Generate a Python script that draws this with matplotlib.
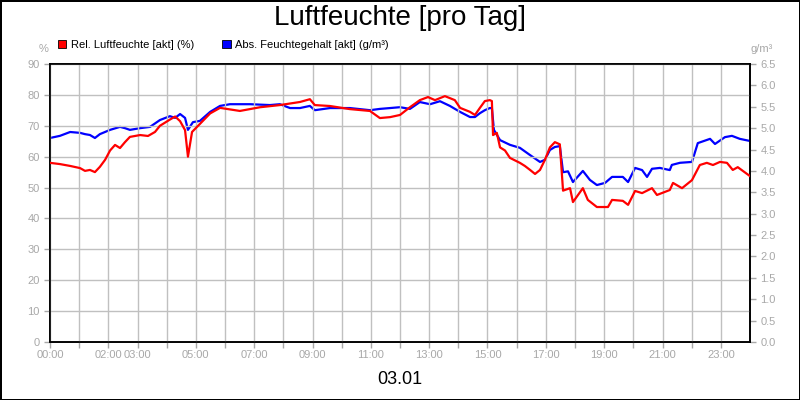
import numpy as np
import matplotlib.pyplot as plt
from matplotlib.patches import Patch

plt.rcParams['font.family'] = ['Liberation Sans', 'DejaVu Sans']

# time in hours since 00:00 of 03.01
t_rel = [0, 0.34, 0.69, 1.03, 1.2, 1.37, 1.54, 1.71, 1.89, 2.06, 2.23, 2.4, 2.57, 2.74,
         3.09, 3.36, 3.6, 3.77, 4.11, 4.29, 4.46, 4.63, 4.73, 4.87, 5.14, 5.49, 5.83,
         6.51, 7.2, 7.88, 8.57, 8.91, 9.08, 9.6, 10.28, 10.97, 11.31, 11.66, 12.0,
         12.34, 12.68, 12.96, 13.2, 13.54, 13.88, 14.06, 14.4, 14.57, 14.74, 14.91,
         15.08, 15.15, 15.19, 15.32, 15.43, 15.6, 15.77, 16.11, 16.28, 16.46, 16.63,
         16.8, 16.97, 17.14, 17.31, 17.48, 17.59, 17.83, 17.93, 18.27, 18.44, 18.75,
         19.13, 19.27, 19.64, 19.82, 20.06, 20.3, 20.64, 20.81, 21.25, 21.36, 21.67,
         22.01, 22.28, 22.52, 22.73, 22.97, 23.21, 23.41, 23.58, 24.0]
rel = [58, 57.6, 57, 56.3, 55.4, 55.7, 55, 56.7, 59, 62, 63.8, 62.8, 64.7, 66.4,
       67, 66.7, 68, 70, 72, 73, 71.5, 68.6, 60, 68, 70.6, 74, 75.8,
       74.8, 76, 76.7, 77.7, 78.6, 76.7, 76.4, 75.4, 74.8, 72.5, 72.8, 73.5,
       76, 78.3, 79.3, 78.3, 79.6, 78.3, 75.8, 74.5, 73.5, 75.8, 78,
       78.3, 78, 67, 67.7, 63, 62, 59.6, 58, 57, 55.7, 54.4,
       55.7, 59, 63, 64.7, 64, 49, 49.8, 45.3, 49.8, 46, 43.7,
       43.7, 46, 45.7, 44.4, 48.9, 48.2, 49.8, 47.6, 49.2, 51.5, 49.8,
       52.4, 57.3, 58, 57.3, 58.3, 58, 55.7, 56.6, 53.7]

t_abs = [0, 0.34, 0.69, 1.03, 1.2, 1.37, 1.54, 1.71, 2.06, 2.4, 2.57, 2.74, 3.09,
         3.43, 3.77, 4.11, 4.29, 4.46, 4.63, 4.73, 4.9, 5.14, 5.49, 5.83, 6.17,
         6.86, 7.54, 7.88, 8.23, 8.57, 8.91, 9.08, 9.6, 10.28, 10.97, 11.31, 11.66,
         12.0, 12.34, 12.68, 13.03, 13.37, 13.71, 14.06, 14.4, 14.57, 14.74, 14.91,
         15.08, 15.15, 15.22, 15.43, 15.77, 16.11, 16.46, 16.8, 16.97, 17.14, 17.31,
         17.48, 17.59, 17.76, 17.93, 18.27, 18.51, 18.75, 19.03, 19.27, 19.64, 19.82,
         20.06, 20.3, 20.47, 20.64, 20.91, 21.25, 21.32, 21.6, 22.01, 22.21, 22.63,
         22.8, 23.14, 23.38, 23.65, 24.0]
absf = [4.77, 4.82, 4.91, 4.89, 4.86, 4.84, 4.77, 4.86, 4.96, 5.03, 5.0, 4.96, 5.0,
        5.03, 5.19, 5.28, 5.24, 5.33, 5.24, 4.96, 5.14, 5.17, 5.38, 5.52, 5.56,
        5.56, 5.54, 5.56, 5.47, 5.47, 5.52, 5.42, 5.47, 5.47, 5.42, 5.45, 5.47,
        5.49, 5.45, 5.61, 5.56, 5.63, 5.52, 5.38, 5.26, 5.26, 5.35, 5.42,
        5.47, 5.47, 4.96, 4.72, 4.61, 4.54, 4.37, 4.21, 4.26, 4.49, 4.56,
        4.58, 3.97, 3.99, 3.74, 4.0, 3.79, 3.67, 3.72, 3.86, 3.86, 3.74,
        4.07, 4.02, 3.86, 4.05, 4.07, 4.02, 4.14, 4.19, 4.21, 4.65, 4.75,
        4.63, 4.79, 4.82, 4.75, 4.7]

hour_labels = ['00:00', '', '02:00', '03:00', '', '05:00', '', '07:00', '', '09:00', '',
               '11:00', '', '13:00', '', '15:00', '', '17:00', '', '19:00', '', '21:00',
               '', '23:00']

grey = '#a8a8a8'

fig = plt.figure(figsize=(8, 4), dpi=100)
fig.patch.set_edgecolor('black')
fig.patch.set_linewidth(2)

ax = fig.add_axes([0.0625, 0.145, 0.875, 0.695])
ax2 = ax.twinx()

ax.plot(t_rel, rel, color='#ff0000', lw=1.6, zorder=3)
ax2.plot(t_abs, absf, color='#0000ff', lw=1.6, zorder=3)

ax.set_xlim(0, 24)
ax.set_ylim(0, 90)
ax2.set_ylim(0, 6.5)
ax.set_yticks(np.arange(0, 91, 10))
ax2.set_yticks(np.arange(0, 6.51, 0.5))
ax2.set_yticklabels(['%.1f' % v for v in np.arange(0, 6.51, 0.5)])
ax.set_xticks(np.arange(0, 24))
ax.set_xticklabels(hour_labels)

ax.grid(True, color='#c0c0c0', lw=1)
ax.set_axisbelow(True)
for a in (ax, ax2):
    a.tick_params(colors=grey, labelsize=8, length=4, width=1)
    for s in a.spines.values():
        s.set_color('black')
        s.set_linewidth(1.2)
ax.tick_params(axis='x', pad=2)

# put red line above blue
ax.set_zorder(ax2.get_zorder() + 1)
ax.patch.set_visible(False)

fig.text(0.5, 0.955, 'Luftfeuchte [pro Tag]', ha='center', va='center', fontsize=20)
fig.text(0.5, 0.05, '03.01', ha='center', va='center', fontsize=13)
fig.text(0.054, 0.878, '%', ha='center', va='center', fontsize=8, color=grey)
fig.text(0.952, 0.878, 'g/m³', ha='center', va='center', fontsize=8, color=grey)

handles = [Patch(facecolor='#ff0000', edgecolor='black', lw=0.6),
           Patch(facecolor='#0000ff', edgecolor='black', lw=0.6)]
fig.legend(handles, ['Rel. Luftfeuchte [akt] (%)', 'Abs. Feuchtegehalt [akt] (g/m³)'],
           loc='center left', bbox_to_anchor=(0.065, 0.888), ncol=2, frameon=False,
           fontsize=8, handlelength=0.8, handleheight=0.8, handletextpad=0.4,
           columnspacing=2.5, borderpad=0)

fig.savefig('out.png', dpi=100)
